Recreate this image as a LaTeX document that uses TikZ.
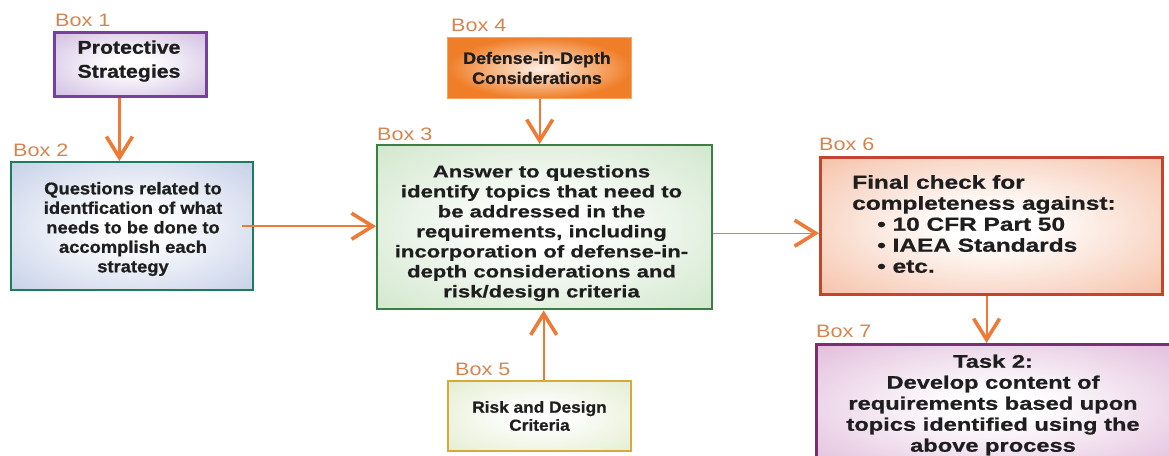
\documentclass[tikz,border=0pt]{standalone}
\usepackage{fontspec}
\setmainfont{Liberation Sans}
\newfontfamily\plainbf{Liberation Sans}[FakeStretch=1.08,FakeBold=0.8]
\newfontfamily\midbf{Liberation Sans}[FakeStretch=1.15,FakeBold=0.8]
\newfontfamily\widebf{Liberation Sans}[FakeStretch=1.3,FakeBold=0.8]
\newfontfamily\labelfont{Liberation Sans}[FakeStretch=1.2]
\usetikzlibrary{arrows.meta}

\definecolor{labelc}{HTML}{D5844F}
\definecolor{arrowc}{HTML}{F07A35}
\definecolor{txt}{HTML}{1E1E1E}
% box frames and tints
\definecolor{frameA}{HTML}{7A3E9D}\definecolor{tintA}{HTML}{C4AEDA}
\definecolor{frameB}{HTML}{1E7B5B}\definecolor{tintB}{HTML}{B8C5E2}
\definecolor{frameC}{HTML}{3A8046}\definecolor{tintC}{HTML}{C6E1C0}
\definecolor{frameD}{HTML}{F6A463}\definecolor{tintD}{HTML}{F07E28}\definecolor{coreD}{HTML}{FDF0E4}
\definecolor{frameE}{HTML}{D8A838}\definecolor{tintE}{HTML}{DDE9C6}
\definecolor{frameF}{HTML}{C4452F}\definecolor{tintF}{HTML}{F3B394}
\definecolor{frameG}{HTML}{7C2F6E}\definecolor{tintG}{HTML}{DAAED3}

% soft radial glow: white core fading to the tint towards the frame
\colorlet{glowouter}{white}
\pgfdeclareradialshading[glowouter]{glow}{\pgfpoint{0bp}{0bp}}{%
  color(0bp)=(white); color(6bp)=(white); color(43bp)=(glowouter); color(50bp)=(glowouter)}

\tikzset{
  box/.style={draw, shading=glow, /utils/exec={\colorlet{glowouter}{#1}},
    anchor=north west, inner sep=0pt},
  box/.default=white,
  boxtext/.style={align=center, inner sep=0pt, text=txt},
  boxlabel/.style={anchor=base west, inner sep=0pt, text=labelc,
    font=\labelfont\fontsize{18}{18}\selectfont},
  flow/.style={draw=arrowc, line width=2.2pt,
    -{Straight Barb[length=21pt,width=26pt,line width=3.6pt]}},
  thinflow/.style={flow, line width=1.4pt},
}

\begin{document}
\begin{tikzpicture}[x=1pt,y=-1pt]
\useasboundingbox (0,0) rectangle (1169,455);
\clip (0,0) rectangle (1169,455);

% boxes
\node[box=tintA, draw=frameA, line width=2.8pt,
      minimum width=152pt, minimum height=64pt] (b1) at (53,31) {};
\node[box=tintB, draw=frameB, line width=2.4pt,
      minimum width=242pt, minimum height=128pt] (b2) at (10,161) {};
\node[box=tintC, draw=frameC, line width=2.4pt,
      minimum width=335pt, minimum height=164pt] (b3) at (376,144) {};
\node[box, shading=radial, inner color=coreD, outer color=tintD, draw=frameD, line width=1.4pt,
      minimum width=184pt, minimum height=61pt] (b4) at (447,37) {};
\node[box=tintE, draw=frameE, line width=2.4pt,
      minimum width=183pt, minimum height=70pt] (b5) at (447,380) {};
\node[box=tintF, draw=frameF, line width=3.2pt,
      minimum width=342pt, minimum height=137pt] (b6) at (819,156) {};
\node[box=tintG, draw=frameG, line width=2.8pt,
      minimum width=360pt, minimum height=124pt] (b7) at (815,343) {};

% box texts
\node[boxtext, font=\midbf\bfseries\fontsize{18.5}{24}\selectfont] (t1) at (129,61)
  {Protective\\Strategies};
\node[boxtext, font=\plainbf\bfseries\fontsize{17}{19.5}\selectfont] (t2) at (133,229)
  {Questions related to\\identfication of what\\needs to be done to\\accomplish each\\strategy};
\node[boxtext, font=\widebf\bfseries\fontsize{17}{20}\selectfont] (t3) at (541.5,233)
  {Answer to questions\\identify topics that need to\\be addressed in the\\requirements, including\\incorporation of defense-in-\\depth considerations and\\risk/design criteria};
\node[boxtext, font=\plainbf\bfseries\fontsize{16.5}{20}\selectfont] (t4) at (537,68)
  {Defense-in-Depth\\Considerations};
\node[boxtext, font=\plainbf\bfseries\fontsize{16}{18}\selectfont] (t5) at (539.5,416)
  {Risk and Design\\Criteria};
\node[boxtext, align=left, font=\widebf\bfseries\fontsize{18.8}{21}\selectfont] (t6) at (984,224)
  {Final check for\\completeness against:\\\hspace*{25pt}\textbullet\ 10 CFR Part 50\\\hspace*{25pt}\textbullet\ IAEA Standards\\\hspace*{25pt}\textbullet\ etc.};
\node[boxtext, font=\widebf\bfseries\fontsize{18.2}{21}\selectfont] (t7) at (993,405)
  {Task 2:\\Develop content of\\requirements based upon\\topics identified using the\\above process};

% box captions
\node[boxlabel] (l1) at (55,27) {Box 1};
\node[boxlabel] (l2) at (13,156) {Box 2};
\node[boxlabel] (l3) at (377,140) {Box 3};
\node[boxlabel] (l4) at (451,31) {Box 4};
\node[boxlabel] (l5) at (455,375) {Box 5};
\node[boxlabel] (l6) at (819,150) {Box 6};
\node[boxlabel] (l7) at (816,337) {Box 7};

% connectors
\draw[flow] ([xshift=-11pt]b1.south) -- ([xshift=-11pt]b1.south |- b2.north);
\draw[flow] (b4.south) -- (b4.south |- b3.north);
\draw[flow] ([xshift=4pt]b5.north) -- ([xshift=4pt]b5.north |- b3.south);
\draw[flow, line width=1.8pt] ([xshift=-12pt]b2.east) -- (b2.east -| b3.west);
\draw[thinflow] ([yshift=-6pt]b3.east) -- ([yshift=-6pt]b3.east -| b6.west);
\draw[flow] ([xshift=-5pt]b6.south) -- ([xshift=-5pt]b6.south |- b7.north);
\end{tikzpicture}
\end{document}
